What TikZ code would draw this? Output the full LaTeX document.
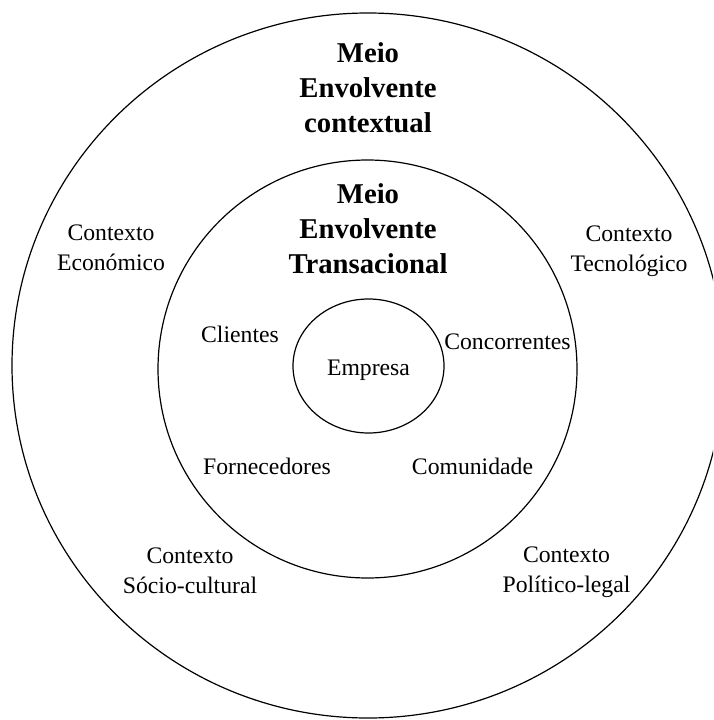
\documentclass[tikz,border=0pt]{standalone}
\usepackage{fontspec}
\setmainfont{Liberation Serif}
\usetikzlibrary{shapes.geometric}
\begin{document}
\begin{tikzpicture}[x=1pt,y=-1pt,
  ring/.style={draw=black, line width=1.2pt, ellipse, inner sep=0pt},
  lbl/.style={font=\fontsize{23.7}{30}\selectfont, align=center, inner sep=0pt, anchor=base},
  ttl/.style={font=\fontsize{28.7}{35}\selectfont\bfseries, align=center, inner sep=0pt, anchor=base}]
\useasboundingbox (0,0) rectangle (713,720);
\clip (0,0) rectangle (713,720);
% the three nested environments
\node[ring, minimum width=712pt, minimum height=705pt] (outer) at (368,365.5) {};
\node[ring, minimum width=419pt, minimum height=418pt] (middle) at (367.5,369) {};
\node[ring, minimum width=151pt, minimum height=134pt] (inner) at (368.5,366) {};
% titles (anchored on the baseline of their last line)
\node[ttl] (tctx) at (368,132) {Meio\\Envolvente\\contextual};
\node[ttl] (ttrans) at (368,273) {Meio\\Envolvente\\Transacional};
% contextual factors
\node[lbl] (econ) at (111,270) {Contexto\\Económico};
\node[lbl] (tecn) at (629,271) {Contexto\\Tecnológico};
\node[lbl] (soc) at (190,593) {Contexto\\Sócio-cultural};
\node[lbl] (pol) at (566.5,592) {Contexto\\Político-legal};
% transactional actors
\node[lbl] (cli) at (240,342) {Clientes};
\node[lbl] (conc) at (507.5,349) {Concorrentes};
\node[lbl] (forn) at (267,474) {Fornecedores};
\node[lbl] (com) at (472.5,474) {Comunidade};
\node[lbl] (emp) at (368.5,375) {Empresa};
\end{tikzpicture}
\end{document}
